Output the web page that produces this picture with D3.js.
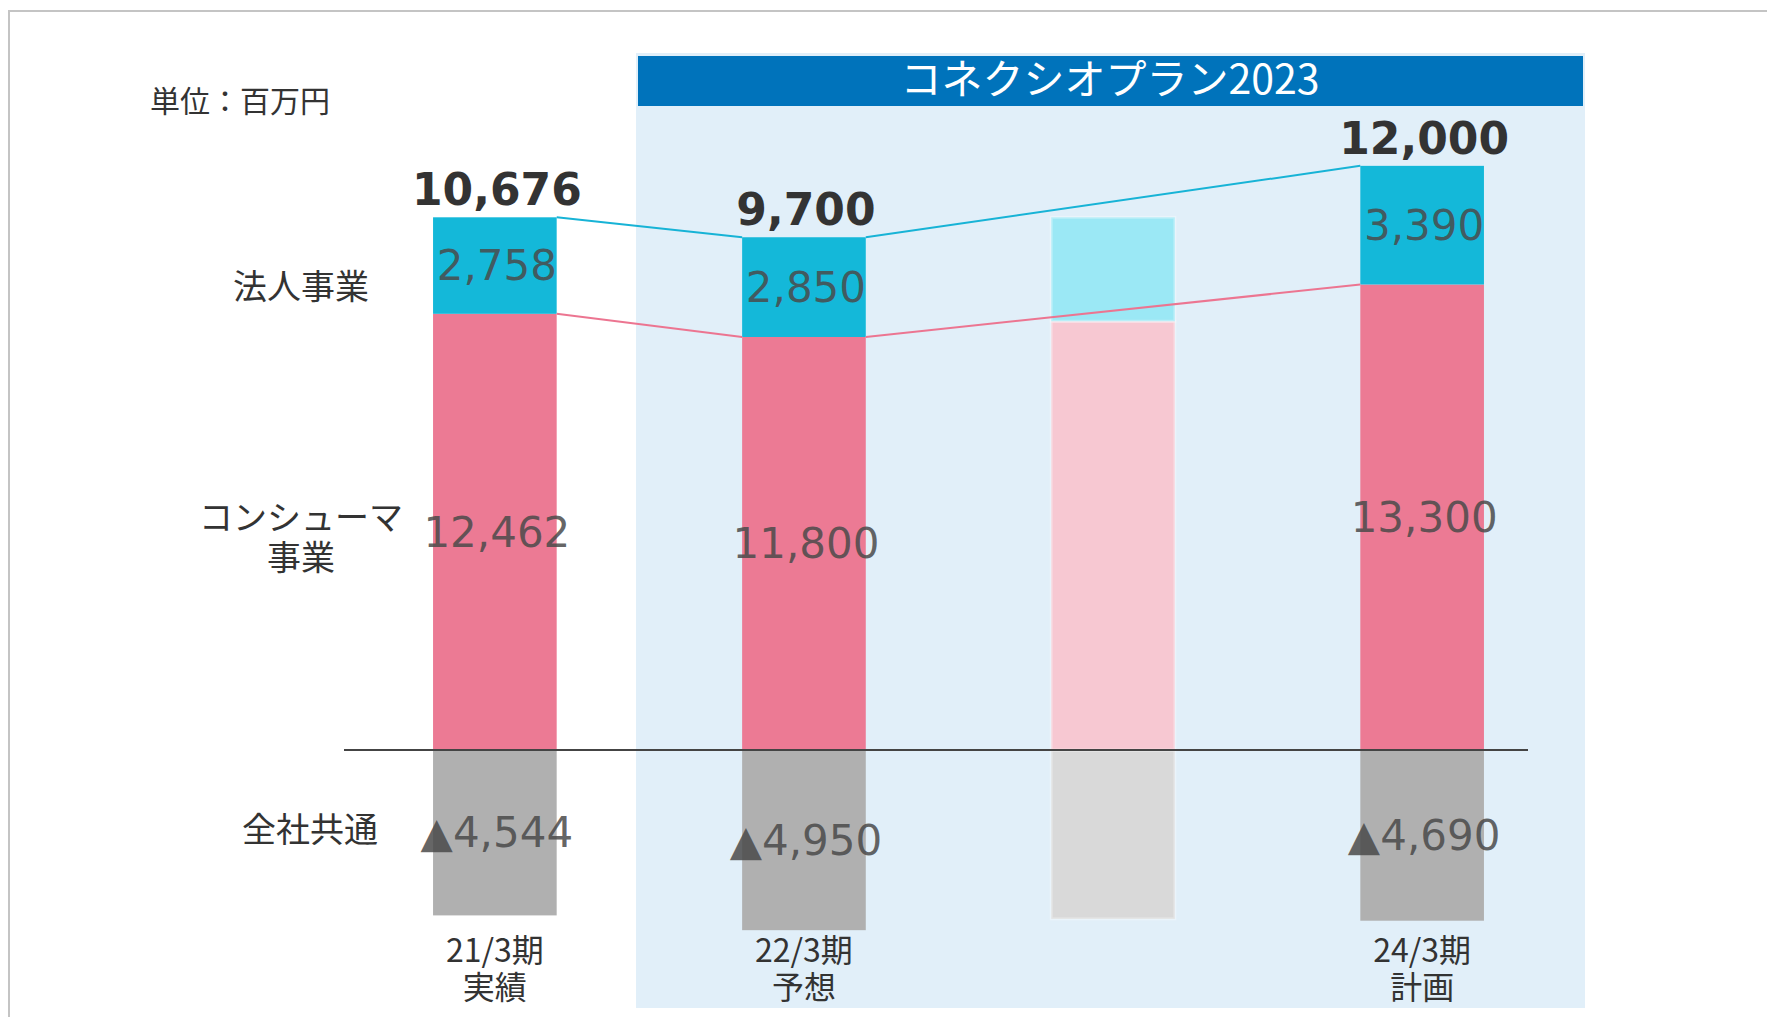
<!DOCTYPE html>
<html>
<head>
<meta charset="utf-8">
<script src="https://cdn.jsdelivr.net/npm/d3@7"></script>
<style>
  body { margin: 0; background: #fff; }
  svg { display: block; }
</style>
</head>
<body>
<div class="layout"></div>
<script>
// values in 百万円
var periods  = ["21/3期", "22/3期", "23/3期", "24/3期"];
var notes    = ["実績", "予想", "", "計画"];
var ghost    = [false, false, true, false];   // 23/3期 is only a faded placeholder
var consumer = [12462, 11800, 12250, 13300];
var corporate = [2758, 2850, 2970, 3390];
var common   = [-4544, -4950, -4640, -4690];
var totals   = [10676, 9700, null, 12000];
var rowLabels = ["法人事業", "コンシューマ\n事業", "全社共通"];

var width = 1767, height = 1017;
var fmt = d3.format(",");

var svg = d3.select(".layout").append("svg")
    .attr("width", width)
    .attr("height", height);

var x = d3.scaleBand()
    .domain(periods)
    .range([278.5, 1638.5])
    .paddingInner(0.6)
    .paddingOuter(0.5);

// the slide draws the negative part a bit stretched
var y = d3.scaleLinear()
    .domain([-5000, 0, 15000])
    .range([932, 750, 225]);

var bw = x.bandwidth();

// frame
svg.append("path")
    .attr("d", "M9," + height + "V11H" + width)
    .attr("fill", "none")
    .attr("stroke", "#c4c4c4")
    .attr("stroke-width", 2);

// plan panel + banner
svg.append("rect")
    .attr("x", 636).attr("y", 53)
    .attr("width", 949).attr("height", 955)
    .attr("fill", "#e1eff9");
svg.append("rect")
    .attr("x", 638).attr("y", 56)
    .attr("width", 945).attr("height", 50)
    .attr("fill", "#0073bb");
svg.append("text")
    .attr("x", 1110).attr("y", 76)
    .attr("text-anchor", "middle")
    .attr("dominant-baseline", "central")
    .style("font-family", "'Noto Sans CJK JP', sans-serif")
    .style("font-size", "41px")
    .attr("fill", "#fff")
    .text("コネクシオプラン2023");

// unit
svg.append("text")
    .attr("x", 150).attr("y", 99)
    .attr("dominant-baseline", "central")
    .style("font-family", "'Noto Sans CJK JP', sans-serif")
    .style("font-size", "30px")
    .attr("fill", "#333")
    .text("単位：百万円");

// stacked bars
var rows = periods.map(function(p, i) {
    return {
        period: p, note: notes[i], ghost: ghost[i],
        consumer: consumer[i], corporate: corporate[i],
        common: common[i], total: totals[i]
    };
});

var colors = {
    corporate: ["#14b8d9", "#9be8f5"],
    consumer: ["#ec7a94", "#f7c8d2"],
    common: ["#b0b0b0", "#d9d9d9"]
};

var g = svg.append("g").attr("class", "bars");
rows.forEach(function(d) {
    var k = d.ghost ? 1 : 0;
    var x0 = x(d.period);
    var segs = [
        {key: "common", y0: d.common, y1: 0},
        {key: "consumer", y0: 0, y1: d.consumer},
        {key: "corporate", y0: d.consumer, y1: d.consumer + d.corporate}
    ];
    segs.forEach(function(s) {
        g.append("rect")
            .attr("x", x0)
            .attr("y", y(Math.max(s.y0, s.y1)))
            .attr("width", bw)
            .attr("height", Math.abs(y(s.y0) - y(s.y1)))
            .attr("fill", colors[s.key][k])
            .attr("stroke", d.ghost ? "#ffffff" : "none")
            .attr("stroke-opacity", 0.3)
            .attr("stroke-width", 3);
    });
});

// connector lines between the real bars
var solid = rows.filter(function(d) { return !d.ghost; });
var links = d3.pairs(solid);
[["corporate", "#17b3d6"], ["consumer", "#ec7591"]].forEach(function(c) {
    svg.append("g").selectAll("line")
        .data(links)
        .enter().append("line")
            .attr("x1", function(p) { return x(p[0].period) + bw; })
            .attr("x2", function(p) { return x(p[1].period); })
            .attr("y1", function(p) { return y(c[0] == "corporate" ? p[0].consumer + p[0].corporate : p[0].consumer); })
            .attr("y2", function(p) { return y(c[0] == "corporate" ? p[1].consumer + p[1].corporate : p[1].consumer); })
            .attr("stroke", c[1])
            .attr("stroke-width", 2);
});

// zero line
svg.append("line")
    .attr("x1", 344).attr("x2", 1528)
    .attr("y1", y(0)).attr("y2", y(0))
    .attr("stroke", "#444")
    .attr("stroke-width", 2);

// value labels
var num = svg.append("g")
    .style("font-family", "'DejaVu Sans', Verdana, sans-serif");

num.selectAll("text.total")
    .data(solid)
    .enter().append("text")
        .attr("class", "total")
        .attr("x", function(d) { return x(d.period) + bw / 2 + 2; })
        .attr("y", function(d) { return y(d.consumer + d.corporate) - 12; })
        .attr("text-anchor", "middle")
        .style("font-size", "44px")
        .style("font-weight", "bold")
        .attr("fill", "#333")
        .text(function(d) { return fmt(d.total); });

function segLabel(cls, lo, hi, txt) {
    num.selectAll("text." + cls)
        .data(solid)
        .enter().append("text")
            .attr("class", cls)
            .attr("x", function(d) { return x(d.period) + bw / 2 + 2; })
            .attr("y", function(d) { return (y(lo(d)) + y(hi(d))) / 2; })
            .attr("dy", "0.35em")
            .attr("text-anchor", "middle")
            .style("font-size", "42px")
            .attr("fill", "#4a4a4a")
            .attr("fill-opacity", 0.85)
            .text(txt);
}
segLabel("corp", function(d) { return d.consumer; }, function(d) { return d.consumer + d.corporate; },
    function(d) { return fmt(d.corporate); });
segLabel("cons", function(d) { return 0; }, function(d) { return d.consumer; },
    function(d) { return fmt(d.consumer); });
segLabel("comm", function(d) { return d.common; }, function(d) { return 0; },
    function(d) { return "▲" + fmt(-d.common); });

// period labels (two lines in one text)
var cat = svg.append("g")
    .style("font-family", "'Noto Sans CJK JP', sans-serif")
    .style("font-size", "32px")
    .attr("fill", "#333")
    .attr("text-anchor", "middle");
solid.forEach(function(d) {
    var cx = x(d.period) + bw / 2;
    var t = cat.append("text").attr("x", cx).attr("y", 962);
    t.append("tspan").attr("x", cx).text(d.period);
    t.append("tspan").attr("x", cx).attr("dy", 37).text(d.note);
});

// row labels on the left
var rowY = [287, 538, 830];
var rowX = [301, 301, 310];
var rl = svg.append("g")
    .style("font-family", "'Noto Sans CJK JP', sans-serif")
    .style("font-size", "34px")
    .attr("fill", "#333")
    .attr("text-anchor", "middle");
rowLabels.forEach(function(t, i) {
    var lines = t.split("\n");
    var txt = rl.append("text")
        .attr("x", rowX[i])
        .attr("y", rowY[i] - (lines.length - 1) * 20 + 12);
    lines.forEach(function(s, j) {
        txt.append("tspan")
            .attr("x", rowX[i])
            .attr("dy", j ? 40 : 0)
            .text(s);
    });
});
</script>
</body>
</html>
